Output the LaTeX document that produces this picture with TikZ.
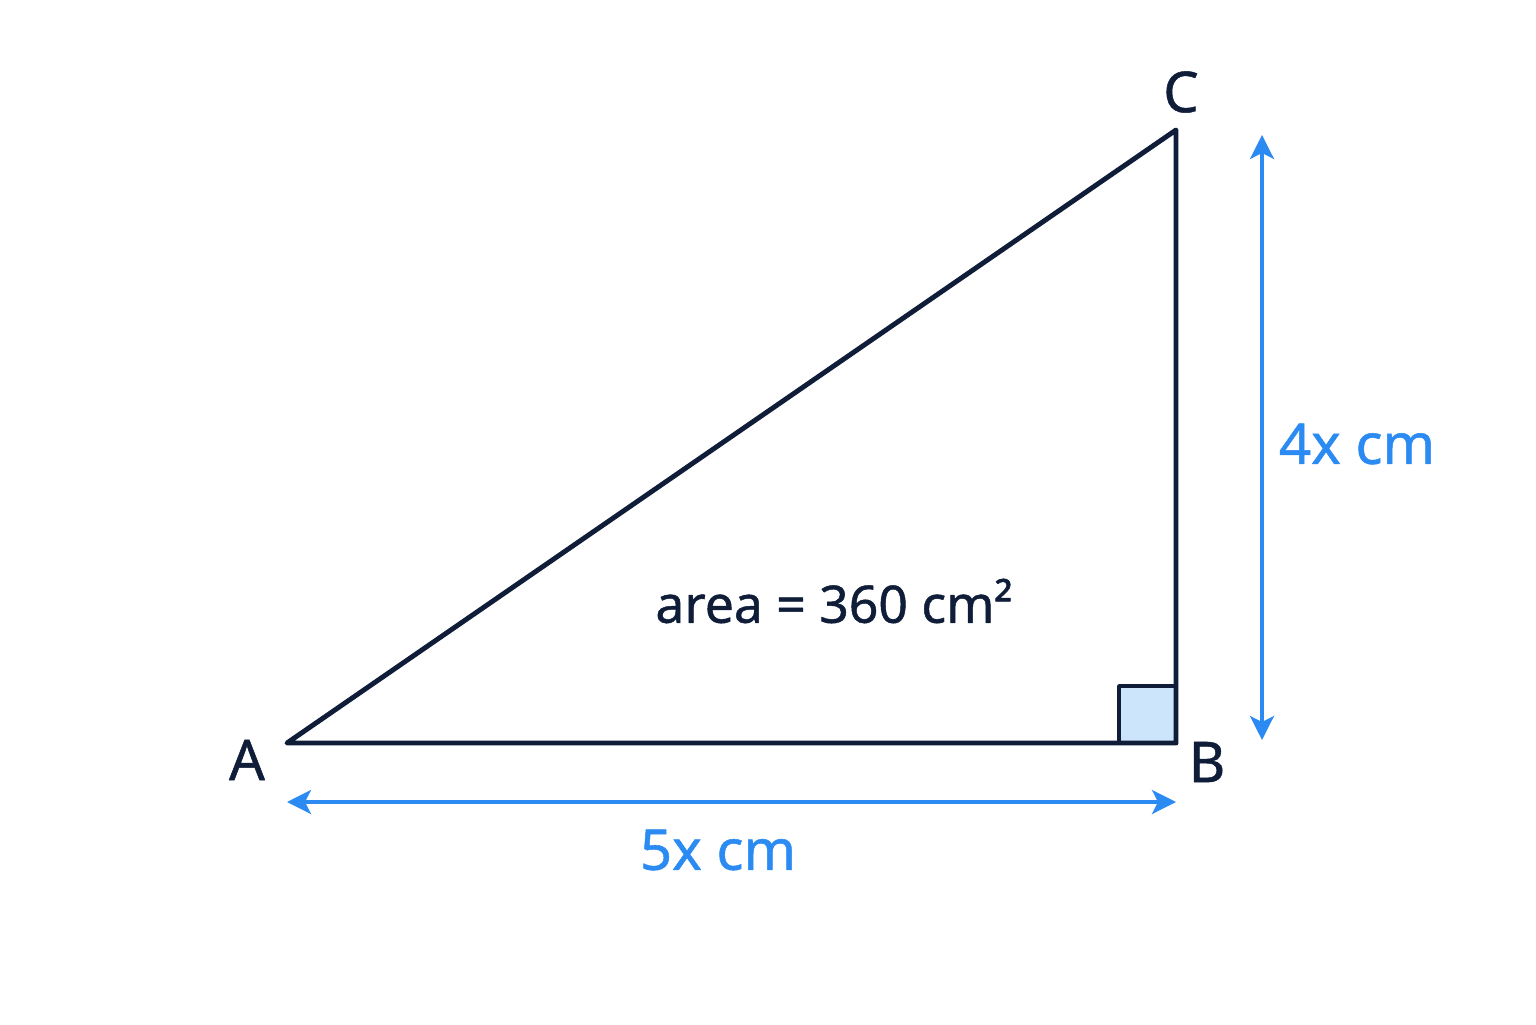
\documentclass[tikz,border=0pt]{standalone}
\usepackage{fontspec}
\setmainfont{Noto Sans}[FakeBold=0.9]
\usetikzlibrary{arrows.meta}
\definecolor{navy}{HTML}{0F1D38}
\definecolor{dimblue}{HTML}{2B8BF2}
\definecolor{sqfill}{HTML}{CCE5FB}
\begin{document}
\begin{tikzpicture}[line join=round, line cap=round, >={Stealth[length=2.4mm,width=2.4mm,inset=0.6mm]},
	dim/.style={dimblue, line width=1pt, <->},
	lbl/.style={navy, font=\fontsize{16}{18}\selectfont},
	dimlbl/.style={dimblue, font=\fontsize{16}{18}\selectfont}]%Tamgiacvuong
	\useasboundingbox (0,0) rectangle (15.36,10.24);
	\def\s{0.57}
	\path(2.87,2.81)coordinate(A)++(8.89,0)coordinate(B)++(0,6.13)coordinate(C);
	\path(B)++(-\s,0)coordinate(P)++(0,\s)coordinate(Q)++(\s,0)coordinate(R);
	\draw[navy, line width=1.1pt, fill=sqfill](P) rectangle (R);
	\draw[navy, line width=1.4pt](A)--(B)--(C)--cycle;
	\foreach \d/\x/\y in{A/2.47/2.64,B/12.07/2.62,C/11.81/9.32}
	\node[lbl](n\d) at (\x,\y){\d};
	\node[lbl, font=\fontsize{14.7}{17}\selectfont](area) at (8.34,4.23){area = 360 cm²};
	% dimension arrows
	\path(2.87,2.22)coordinate(h1)(11.76,2.22)coordinate(h2)(12.62,8.89)coordinate(v1)(12.62,2.84)coordinate(v2);
	\draw[dim](h1)--(h2);
	\draw[dim](v1)--(v2);
	\node[dimlbl](base) at (7.18,1.74){5x cm};
	\node[dimlbl](height) at (13.57,5.80){4x cm};
\end{tikzpicture}
\end{document}
